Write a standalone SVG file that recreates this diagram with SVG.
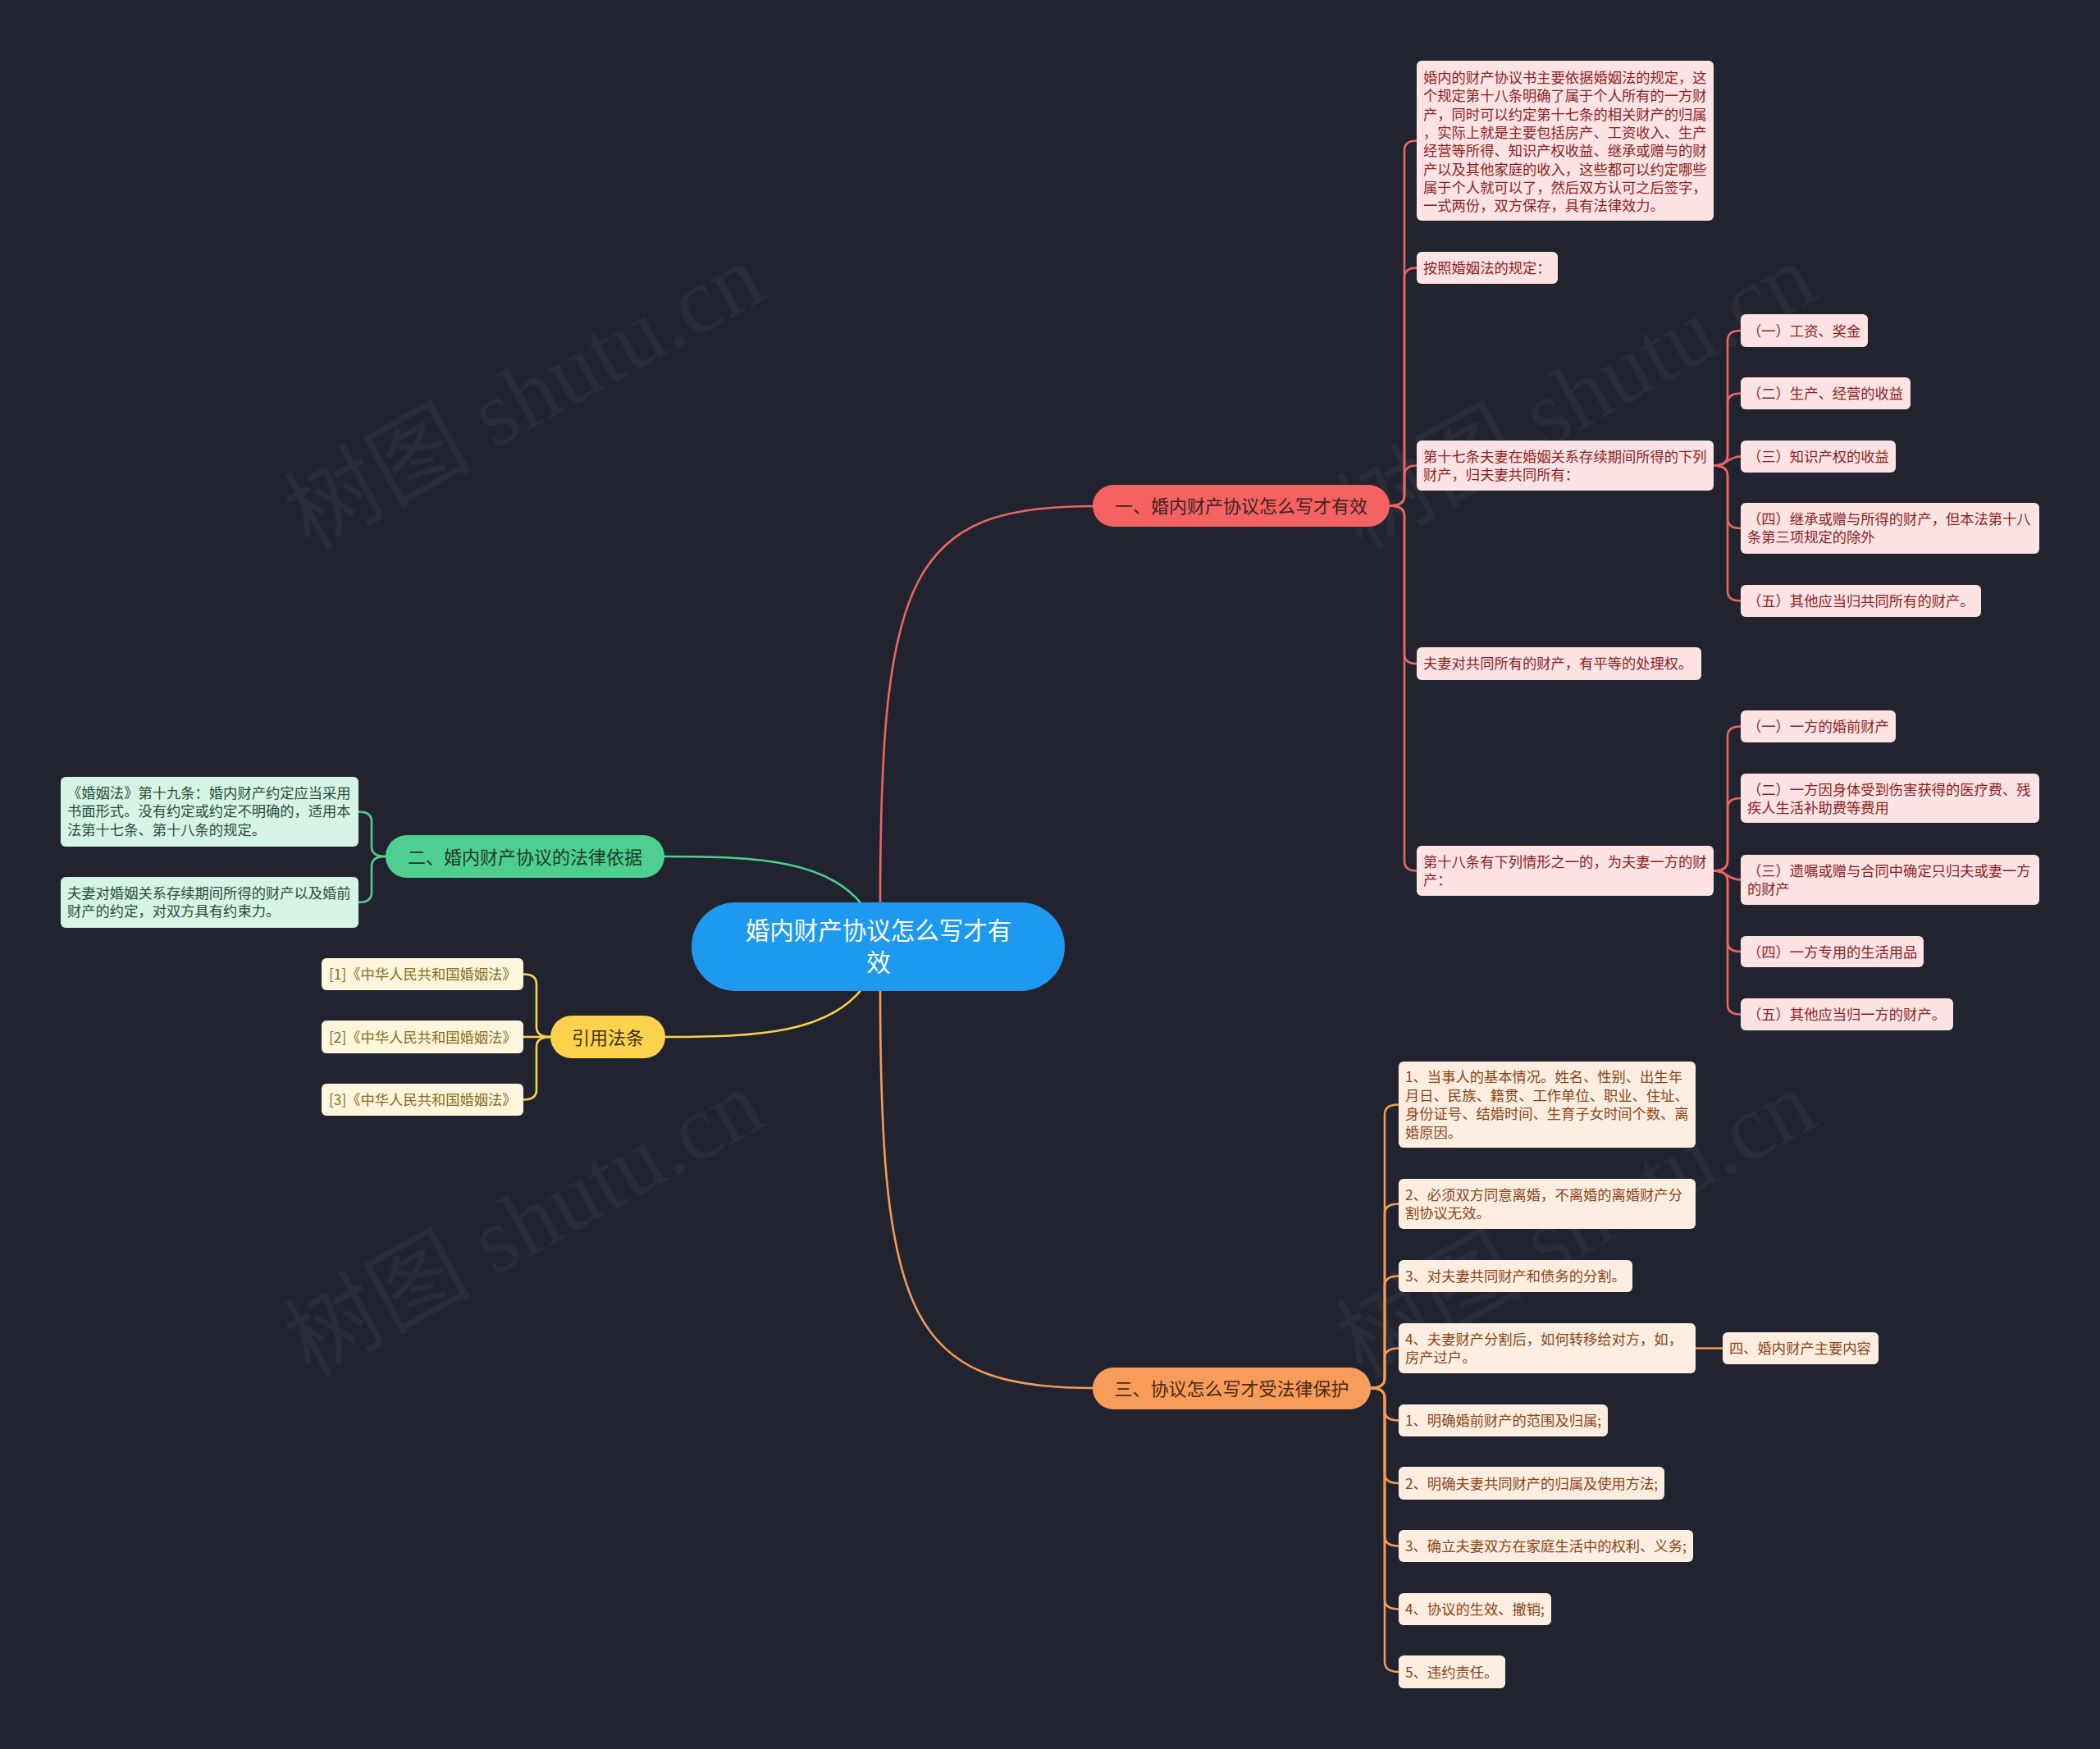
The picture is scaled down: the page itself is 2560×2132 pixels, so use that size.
<svg xmlns="http://www.w3.org/2000/svg" width="2560" height="2132" viewBox="0 0 2560 2132">
<style>
text{font-family:"Noto Sans CJK SC","Noto Sans",sans-serif}
.wm{font-family:"Liberation Serif","Noto Sans CJK SC",serif;font-size:114px;fill:#ffffff;fill-opacity:0.045}
.c{fill:none;stroke-width:2.6;stroke-linecap:round}
.cr{stroke:#ea6564}.cg{stroke:#4fcf8f}.cy{stroke:#fbd24c}.co{stroke:#f39a57}
.lf{font-size:17.3px}
.rl{fill:#fde3e3}.rt{fill:#8c1f1f}
.gl{fill:#d7f5e7}.gt{fill:#2a4d3c}
.yl{fill:#fdf6dd}.yt{fill:#866c1c}
.ol{fill:#feeee2}.ot{fill:#8a4515}
.mt{font-size:22px;text-anchor:middle}
</style>
<rect width="2560" height="2132" fill="#21242f"/>
<g id="watermarks">
<text class="wm" x="378" y="672" transform="rotate(-29 378 672)">树图 shutu.cn</text>
<text class="wm" x="1660" y="672" transform="rotate(-29 1660 672)">树图 shutu.cn</text>
<text class="wm" x="378" y="1680" transform="rotate(-29 378 1680)">树图 shutu.cn</text>
<text class="wm" x="1660" y="1680" transform="rotate(-29 1660 1680)">树图 shutu.cn</text>
</g>
<g id="connectors">
<path class="c cr" d="M1073,1104 C1073,700 1110,617 1332,617"/>
<path class="c co" d="M1073,1204 C1073,1608 1110,1692 1332,1692"/>
<path class="c cg" d="M1052,1104 C1010,1050 930,1044 810,1044"/>
<path class="c cy" d="M1052,1204 C1010,1258 930,1264 811,1264"/>
<path class="c cr" d="M1694,616.5 Q1712,616.5 1712,604.5 L1712,183.5 Q1712,171.5 1727,171.5"/>
<path class="c cr" d="M1694,616.5 Q1712,616.5 1712,604.5 L1712,338.5 Q1712,326.5 1727,326.5"/>
<path class="c cr" d="M1694,616.5 Q1712,616.5 1712,604.5 L1712,579.5 Q1712,567.5 1727,567.5"/>
<path class="c cr" d="M1694,616.5 Q1712,616.5 1712,628.5 L1712,797 Q1712,809 1727,809"/>
<path class="c cr" d="M1694,616.5 Q1712,616.5 1712,628.5 L1712,1049.5 Q1712,1061.5 1727,1061.5"/>
<path class="c cr" d="M2089,567.5 Q2106,567.5 2106,555.5 L2106,415 Q2106,403 2122,403"/>
<path class="c cr" d="M2089,567.5 Q2106,567.5 2106,555.5 L2106,491.5 Q2106,479.5 2122,479.5"/>
<path class="c cr" d="M2089,567.5 C2106,567.5 2106,556.5 2122,556.5"/>
<path class="c cr" d="M2089,567.5 Q2106,567.5 2106,579.5 L2106,632 Q2106,644 2122,644"/>
<path class="c cr" d="M2089,567.5 Q2106,567.5 2106,579.5 L2106,720.5 Q2106,732.5 2122,732.5"/>
<path class="c cr" d="M2089,1061.5 Q2106,1061.5 2106,1049.5 L2106,897.5 Q2106,885.5 2122,885.5"/>
<path class="c cr" d="M2089,1061.5 Q2106,1061.5 2106,1049.5 L2106,985 Q2106,973 2122,973"/>
<path class="c cr" d="M2089,1061.5 C2106,1061.5 2106,1072.5 2122,1072.5"/>
<path class="c cr" d="M2089,1061.5 Q2106,1061.5 2106,1073.5 L2106,1148 Q2106,1160 2122,1160"/>
<path class="c cr" d="M2089,1061.5 Q2106,1061.5 2106,1073.5 L2106,1224.5 Q2106,1236.5 2122,1236.5"/>
<path class="c cg" d="M470,1044 Q453,1044 453,1032 L453,1001.5 Q453,989.5 437,989.5"/>
<path class="c cg" d="M470,1044 Q453,1044 453,1056 L453,1088 Q453,1100 437,1100"/>
<path class="c cy" d="M671,1264 Q654,1264 654,1252 L654,1199.5 Q654,1187.5 638,1187.5"/>
<path class="c cy" d="M671,1264 L638,1264"/>
<path class="c cy" d="M671,1264 Q654,1264 654,1276 L654,1328.5 Q654,1340.5 638,1340.5"/>
<path class="c co" d="M1671,1692 Q1688,1692 1688,1680 L1688,1358.5 Q1688,1346.5 1705,1346.5"/>
<path class="c co" d="M1671,1692 Q1688,1692 1688,1680 L1688,1479.5 Q1688,1467.5 1705,1467.5"/>
<path class="c co" d="M1671,1692 Q1688,1692 1688,1680 L1688,1567.5 Q1688,1555.5 1705,1555.5"/>
<path class="c co" d="M1671,1692 Q1688,1692 1688,1680 L1688,1655.5 Q1688,1643.5 1705,1643.5"/>
<path class="c co" d="M1671,1692 Q1688,1692 1688,1704 L1688,1719.5 Q1688,1731.5 1705,1731.5"/>
<path class="c co" d="M1671,1692 Q1688,1692 1688,1704 L1688,1796 Q1688,1808 1705,1808"/>
<path class="c co" d="M1671,1692 Q1688,1692 1688,1704 L1688,1872.5 Q1688,1884.5 1705,1884.5"/>
<path class="c co" d="M1671,1692 Q1688,1692 1688,1704 L1688,1949.5 Q1688,1961.5 1705,1961.5"/>
<path class="c co" d="M1671,1692 Q1688,1692 1688,1704 L1688,2026 Q1688,2038 1705,2038"/>
<path class="c co" d="M2067,1643.5 L2100,1643.5"/>
</g>
<g id="root">
<rect x="843" y="1100" width="455" height="108" rx="54" fill="#1d9af0"/>
<text x="1071" y="1145" font-size="29.5" fill="#ffffff" text-anchor="middle">婚内财产协议怎么写才有</text>
<text x="1071" y="1184" font-size="29.5" fill="#ffffff" text-anchor="middle">效</text>
</g>
<g id="b1">
<rect x="1332" y="591" width="362" height="51" rx="25.5" fill="#f46261"/>
<text class="mt" x="1513" y="625" fill="#3e2424">一、婚内财产协议怎么写才有效</text>
</g>
<g id="b2">
<rect x="470" y="1018" width="340" height="52" rx="26" fill="#4fcf8f"/>
<text class="mt" x="640" y="1052.5" fill="#1e3a2c">二、婚内财产协议的法律依据</text>
</g>
<g id="b3">
<rect x="671" y="1238" width="140" height="52" rx="26" fill="#fdd34d"/>
<text class="mt" x="741" y="1272.5" fill="#3a311c">引用法条</text>
</g>
<g id="b4">
<rect x="1332" y="1667" width="339" height="51" rx="25.5" fill="#f89c5a"/>
<text class="mt" x="1501.5" y="1700.5" fill="#4a2a12">三、协议怎么写才受法律保护</text>
</g>
<g id="r1"><rect class="rl" x="1727" y="74" width="362" height="195" rx="6"/>
<text class="lf rt" x="1735"><tspan x="1735" y="101">婚内的财产协议书主要依据婚姻法的规定，这</tspan><tspan x="1735" y="123.3">个规定第十八条明确了属于个人所有的一方财</tspan><tspan x="1735" y="145.6">产，同时可以约定第十七条的相关财产的归属</tspan><tspan x="1735" y="167.9">，实际上就是主要包括房产、工资收入、生产</tspan><tspan x="1735" y="190.2">经营等所得、知识产权收益、继承或赠与的财</tspan><tspan x="1735" y="212.5">产以及其他家庭的收入，这些都可以约定哪些</tspan><tspan x="1735" y="234.8">属于个人就可以了，然后双方认可之后签字，</tspan><tspan x="1735" y="257.1">一式两份，双方保存，具有法律效力。</tspan></text></g>
<g id="r2"><rect class="rl" x="1727" y="307" width="172" height="39" rx="6"/>
<text class="lf rt" x="1735" y="333">按照婚姻法的规定：</text></g>
<g id="r3"><rect class="rl" x="1727" y="537" width="362" height="61" rx="6"/>
<text class="lf rt"><tspan x="1735" y="563">第十七条夫妻在婚姻关系存续期间所得的下列</tspan><tspan x="1735" y="585.3">财产，归夫妻共同所有：</tspan></text></g>
<g id="r4"><rect class="rl" x="1727" y="789" width="347" height="40" rx="6"/>
<text class="lf rt" x="1735" y="815">夫妻对共同所有的财产，有平等的处理权。</text></g>
<g id="r5"><rect class="rl" x="1727" y="1031" width="362" height="61" rx="6"/>
<text class="lf rt"><tspan x="1735" y="1057">第十八条有下列情形之一的，为夫妻一方的财</tspan><tspan x="1735" y="1079.3">产：</tspan></text></g>
<g id="r3a"><rect class="rl" x="2122" y="383" width="155" height="40" rx="6"/>
<text class="lf rt" x="2130" y="409.5">（一）工资、奖金</text></g>
<g id="r3b"><rect class="rl" x="2122" y="460" width="207" height="39" rx="6"/>
<text class="lf rt" x="2130" y="486">（二）生产、经营的收益</text></g>
<g id="r3c"><rect class="rl" x="2122" y="537" width="189" height="39" rx="6"/>
<text class="lf rt" x="2130" y="563">（三）知识产权的收益</text></g>
<g id="r3d"><rect class="rl" x="2122" y="613" width="364" height="62" rx="6"/>
<text class="lf rt"><tspan x="2130" y="639">（四）继承或赠与所得的财产，但本法第十八</tspan><tspan x="2130" y="661.3">条第三项规定的除外</tspan></text></g>
<g id="r3e"><rect class="rl" x="2122" y="713" width="293" height="39" rx="6"/>
<text class="lf rt" x="2130" y="739">（五）其他应当归共同所有的财产。</text></g>
<g id="r5a"><rect class="rl" x="2122" y="866" width="189" height="39" rx="6"/>
<text class="lf rt" x="2130" y="892">（一）一方的婚前财产</text></g>
<g id="r5b"><rect class="rl" x="2122" y="943" width="364" height="60" rx="6"/>
<text class="lf rt"><tspan x="2130" y="969">（二）一方因身体受到伤害获得的医疗费、残</tspan><tspan x="2130" y="991.3">疾人生活补助费等费用</tspan></text></g>
<g id="r5c"><rect class="rl" x="2122" y="1042" width="364" height="61" rx="6"/>
<text class="lf rt"><tspan x="2130" y="1068">（三）遗嘱或赠与合同中确定只归夫或妻一方</tspan><tspan x="2130" y="1090.3">的财产</tspan></text></g>
<g id="r5d"><rect class="rl" x="2122" y="1141" width="223" height="38" rx="6"/>
<text class="lf rt" x="2130" y="1166.5">（四）一方专用的生活用品</text></g>
<g id="r5e"><rect class="rl" x="2122" y="1217" width="259" height="39" rx="6"/>
<text class="lf rt" x="2130" y="1243">（五）其他应当归一方的财产。</text></g>
<g id="g1"><rect class="gl" x="74" y="947" width="363" height="85" rx="6"/>
<text class="lf gt"><tspan x="82" y="973">《婚姻法》第十九条：婚内财产约定应当采用</tspan><tspan x="82" y="995.3">书面形式。没有约定或约定不明确的，适用本</tspan><tspan x="82" y="1017.6">法第十七条、第十八条的规定。</tspan></text></g>
<g id="g2"><rect class="gl" x="74" y="1069" width="363" height="62" rx="6"/>
<text class="lf gt"><tspan x="82" y="1095">夫妻对婚姻关系存续期间所得的财产以及婚前</tspan><tspan x="82" y="1117.3">财产的约定，对双方具有约束力。</tspan></text></g>
<g id="y1"><rect class="yl" x="392" y="1168" width="246" height="39" rx="6"/>
<text class="lf yt" x="401" y="1194">[1]《中华人民共和国婚姻法》</text></g>
<g id="y2"><rect class="yl" x="392" y="1244" width="246" height="40" rx="6"/>
<text class="lf yt" x="401" y="1270.5">[2]《中华人民共和国婚姻法》</text></g>
<g id="y3"><rect class="yl" x="392" y="1321" width="246" height="39" rx="6"/>
<text class="lf yt" x="401" y="1347">[3]《中华人民共和国婚姻法》</text></g>
<g id="o1"><rect class="ol" x="1705" y="1294" width="362" height="105" rx="6"/>
<text class="lf ot"><tspan x="1713" y="1319">1、当事人的基本情况。姓名、性别、出生年</tspan><tspan x="1713" y="1341.5">月日、民族、籍贯、工作单位、职业、住址、</tspan><tspan x="1713" y="1364">身份证号、结婚时间、生育子女时间个数、离</tspan><tspan x="1713" y="1386.5">婚原因。</tspan></text></g>
<g id="o2"><rect class="ol" x="1705" y="1437" width="362" height="61" rx="6"/>
<text class="lf ot"><tspan x="1713" y="1463">2、必须双方同意离婚，不离婚的离婚财产分</tspan><tspan x="1713" y="1485.3">割协议无效。</tspan></text></g>
<g id="o3"><rect class="ol" x="1705" y="1536" width="285" height="39" rx="6"/>
<text class="lf ot" x="1713" y="1562">3、对夫妻共同财产和债务的分割。</text></g>
<g id="o4"><rect class="ol" x="1705" y="1613" width="362" height="61" rx="6"/>
<text class="lf ot"><tspan x="1713" y="1639">4、夫妻财产分割后，如何转移给对方，如，</tspan><tspan x="1713" y="1661.3">房产过户。</tspan></text></g>
<g id="o4a"><rect class="ol" x="2100" y="1624" width="190" height="39" rx="6"/>
<text class="lf ot" x="2108" y="1650">四、婚内财产主要内容</text></g>
<g id="o5"><rect class="ol" x="1705" y="1712" width="255" height="39" rx="6"/>
<text class="lf ot" x="1713" y="1738">1、明确婚前财产的范围及归属;</text></g>
<g id="o6"><rect class="ol" x="1705" y="1788" width="324" height="40" rx="6"/>
<text class="lf ot" x="1713" y="1814.5">2、明确夫妻共同财产的归属及使用方法;</text></g>
<g id="o7"><rect class="ol" x="1705" y="1865" width="359" height="39" rx="6"/>
<text class="lf ot" x="1713" y="1891">3、确立夫妻双方在家庭生活中的权利、义务;</text></g>
<g id="o8"><rect class="ol" x="1705" y="1942" width="186" height="39" rx="6"/>
<text class="lf ot" x="1713" y="1968">4、协议的生效、撤销;</text></g>
<g id="o9"><rect class="ol" x="1705" y="2018" width="130" height="40" rx="6"/>
<text class="lf ot" x="1713" y="2044.5">5、违约责任。</text></g>
</svg>
